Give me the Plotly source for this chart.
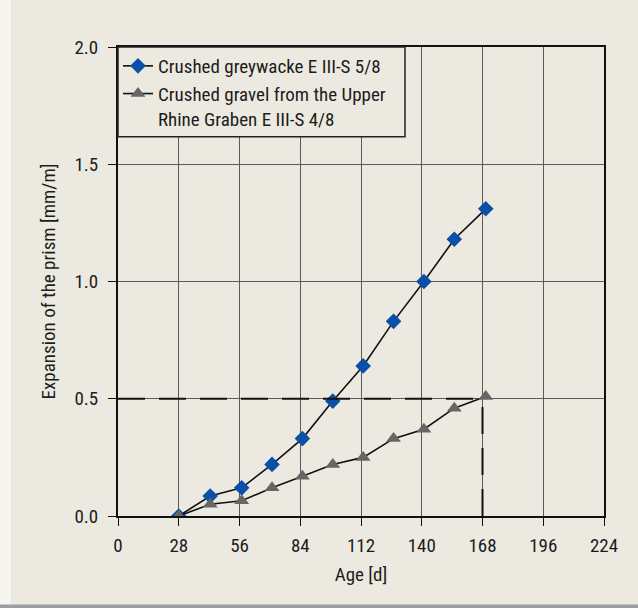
import plotly.graph_objects as go

# Test ages in days
age_greywacke = [28, 42.5, 57, 71, 85, 99, 113, 127, 141, 155, 169.5]
age_gravel = [28, 42.5, 57, 71, 85, 99, 113, 127, 141, 155, 169.5]

# Prism expansion in mm/m
exp_greywacke = [0.0, 0.085, 0.12, 0.22, 0.33, 0.49, 0.64, 0.83, 1.0, 1.18, 1.31]
exp_gravel = [0.0, 0.05, 0.065, 0.12, 0.17, 0.22, 0.25, 0.33, 0.37, 0.46, 0.51]

name_greywacke = "Crushed greywacke E III-S 5/8"
name_gravel = "Crushed gravel from the Upper<br>Rhine Graben E III-S 4/8"

x_ticks = [0, 28, 56, 84, 112, 140, 168, 196, 224]
y_ticks = [0.0, 0.5, 1.0, 1.5, 2.0]

limit_value = 0.5
limit_age = 168

PAPER = "#ECEAE0"
TEXT = "#1C1C1C"
FONT = "Liberation Sans Narrow, Roboto Condensed, DejaVu Sans Condensed, Arial Narrow, Roboto, sans-serif"

fig = go.Figure()

fig.add_trace(go.Scatter(
    x=age_greywacke, y=exp_greywacke, name=name_greywacke,
    mode="lines+markers",
    line=dict(color="#111111", width=1.6),
    marker=dict(symbol="diamond", size=12, color="#0A50A8"),
))
fig.add_trace(go.Scatter(
    x=age_gravel, y=exp_gravel, name=name_gravel,
    mode="lines+markers",
    line=dict(color="#111111", width=1.6),
    marker=dict(symbol="triangle-up", size=13, color="#666666"),
))

# 0.5 mm/m limit at 168 days
fig.add_shape(type="line", xref="x", yref="y", x0=0, x1=limit_age, y0=limit_value, y1=limit_value,
              line=dict(color="#111111", width=2, dash="27px,14px"), layer="above")
fig.add_shape(type="line", xref="x", yref="y", x0=limit_age, x1=limit_age, y0=0, y1=limit_value,
              line=dict(color="#111111", width=2, dash="27px,14px"), layer="above")

# legend frame
fig.add_shape(type="rect", xref="paper", yref="paper", x0=0, x1=(405 - 118) / 486, y0=(516.5 - 137) / 469.2, y1=1,
              line=dict(color="#222222", width=1.5), fillcolor=PAPER, layer="above")

# scan edges
fig.add_shape(type="rect", xref="paper", yref="paper", x0=-0.25, x1=(11 - 118) / 486, y0=-0.3, y1=1.2,
              line=dict(width=0), fillcolor="#F6F5EF", layer="below")
fig.add_shape(type="rect", xref="paper", yref="paper", x0=-0.3, x1=1.2, y0=-0.3, y1=(516.5 - 605) / 469.2,
              line=dict(width=0), fillcolor="#9A9EA2", layer="below")

axis_common = dict(
    showline=True, linecolor="#111111", linewidth=2, mirror=True,
    showgrid=True, gridcolor="#5A5A5A", gridwidth=1,
    ticks="outside", ticklen=8, tickcolor="#111111", tickwidth=1,
    tickfont=dict(family=FONT, size=19, color=TEXT),
    zeroline=False,
)

fig.update_xaxes(range=[0, 224], tickvals=x_ticks, ticktext=[str(v) for v in x_ticks],
                 title=dict(text="Age [d]", font=dict(family=FONT, size=19, color=TEXT), standoff=12),
                 ticklabelstandoff=3, **axis_common)
fig.update_yaxes(range=[0, 2], tickvals=y_ticks, ticktext=[f"{v:.1f}" for v in y_ticks],
                 title=dict(text="Expansion of the prism [mm/m]", font=dict(family=FONT, size=19, color=TEXT), standoff=14),
                 ticklabelstandoff=6, **axis_common)

fig.update_layout(
    width=638, height=608,
    margin=dict(l=118, r=34, t=47, b=92),
    paper_bgcolor=PAPER, plot_bgcolor=PAPER,
    showlegend=True,
    legend=dict(x=0.0, y=1.0, xanchor="left", yanchor="top", bgcolor="rgba(0,0,0,0)",
                borderwidth=0, valign="top", tracegroupgap=0, itemwidth=30,
                font=dict(family=FONT, size=19, color=TEXT)),
    font=dict(family=FONT),
)

fig.write_html("out.html")
